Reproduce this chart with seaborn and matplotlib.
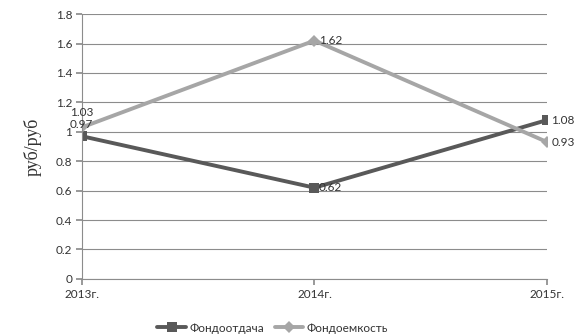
import matplotlib
matplotlib.use("Agg")
import matplotlib.pyplot as plt
import seaborn as sns
import pandas as pd

years = ["2013г.", "2014г.", "2015г."]
fondootdacha = [0.97, 0.62, 1.08]
fondoemkost = [1.03, 1.62, 0.93]
series_names = ["Фондоотдача", "Фондоемкость"]
yticks = [0, 0.2, 0.4, 0.6, 0.8, 1, 1.2, 1.4, 1.6, 1.8]
ytick_labels = ["0", "0.2", "0.4", "0.6", "0.8", "1", "1.2", "1.4", "1.6", "1.8"]

sns.set_theme(style="white")
plt.rcParams["font.family"] = ["Lato", "DejaVu Sans"]

df = pd.DataFrame({
    "x": list(range(len(years))) * 2,
    "value": fondootdacha + fondoemkost,
    "series": [series_names[0]] * 3 + [series_names[1]] * 3,
})

colors = {series_names[0]: "#595959", series_names[1]: "#A6A6A6"}
markers = {series_names[0]: "s", series_names[1]: "D"}

fig = plt.figure(figsize=(5.76, 3.36), dpi=100)
ax = fig.add_axes([0.142, 0.170, 0.808, 0.788])

sns.lineplot(data=df, x="x", y="value", hue="series", style="series",
             palette=colors, markers=markers, dashes=False, ax=ax,
             linewidth=2.8, markersize=6.5, markeredgewidth=0, legend=True)

ax.set_xlim(0, 2)
ax.set_ylim(0, 1.8)
ax.set_yticks(yticks)
ax.set_yticklabels(ytick_labels)
ax.set_xticks(range(len(years)))
ax.set_xticklabels(years)
ax.yaxis.grid(True, color="#8c8c8c", linewidth=0.8)
ax.set_axisbelow(True)
for s in ["top", "right"]:
    ax.spines[s].set_visible(False)
for s in ["left", "bottom"]:
    ax.spines[s].set_color("#8c8c8c")
    ax.spines[s].set_linewidth(0.8)
ax.tick_params(axis="x", length=4, color="#8c8c8c", labelsize=8.5, pad=3, direction="out", bottom=True, labelcolor="#333333")
ax.tick_params(axis="y", length=4, color="#8c8c8c", labelsize=8.5, pad=3, left=True, labelcolor="#333333")
ax.set_xlabel("")
ax.set_ylabel("руб/руб", family=["Liberation Serif"], fontsize=13, labelpad=10, color="#333333")

# data labels
txtkw = dict(fontsize=8.5, color="#333333", textcoords="offset points")
ax.annotate(f"{fondoemkost[0]:.2f}", (0, fondoemkost[0]), xytext=(0, 7), ha="center", va="bottom", **txtkw)
ax.annotate(f"{fondootdacha[0]:.2f}", (0, fondootdacha[0]), xytext=(0, 4.5), ha="center", va="bottom", **txtkw)
for i in (1, 2):
    ax.annotate(f"{fondoemkost[i]:.2f}", (i, fondoemkost[i]), xytext=(3, 0), ha="left", va="center", **txtkw)
    ax.annotate(f"{fondootdacha[i]:.2f}", (i, fondootdacha[i]), xytext=(3, 0), ha="left", va="center", **txtkw)

leg = ax.legend(loc="upper center", bbox_to_anchor=(0.41, -0.125), ncol=2, frameon=False,
                fontsize=8.5, handlelength=2.4, columnspacing=0.9, handletextpad=0.3)
for t in leg.get_texts():
    t.set_color("#333333")

fig.savefig("out.png", dpi=100)
